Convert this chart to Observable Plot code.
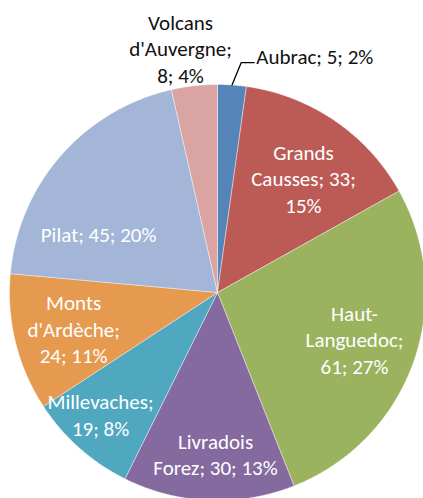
<!DOCTYPE html>
<html><head><meta charset="utf-8">
<script src="https://cdn.jsdelivr.net/npm/d3@7"></script>
<script src="https://cdn.jsdelivr.net/npm/@observablehq/plot@0.6"></script>
<style>body{margin:0;background:#fff;overflow:hidden}</style>
</head><body><div id="chart"></div>
<script>
// ---- data ----
const categories = ["Aubrac", "Grands Causses", "Haut-Languedoc", "Livradois Forez", "Millevaches", "Monts d'Ardèche", "Pilat", "Volcans d'Auvergne"];
const values = [5, 33, 61, 30, 19, 24, 45, 8];
const colors = ["#5584b9", "#bc5a56", "#9bb25e", "#856a9f", "#4fa8bf", "#e59a4f", "#a3b6d8", "#d9a4a2"];
// how each label wraps (text lines)
const labelLines = [
  ["Aubrac; 5; 2%"],
  ["Grands", "Causses; 33;", "15%"],
  ["Haut-", "Languedoc;", "61; 27%"],
  ["Livradois", "Forez; 30; 13%"],
  ["Millevaches;", "19; 8%"],
  ["Monts", "d'Ardèche;", "24; 11%"],
  ["Pilat; 45; 20%"],
  ["Volcans", "d'Auvergne;", "8; 4%"]
];

// ---- layout ----
const W = 423, H = 498, CX = 217, CY = 292, R = 208;
// label placement: angle offset from slice middle (deg), radius as fraction of R, inside/outside
const labelLayout = [
  {da: 5.3, r: 1.154, inside: false, anchor: "start"},
  {da: 2.4, r: 0.69, inside: true},
  {da: -1.0, r: 0.695, inside: true},
  {da: -1.7, r: 0.774, inside: true},
  {da: 2.3, r: 0.811, inside: true},
  {da: 0, r: 0.713, inside: true},
  {da: -14.8, r: 0.638, inside: true},
  {da: -2.2, r: 1.19, inside: false, anchor: "middle"}
];

const arcs = d3.pie().sort(null).value(d => d)(values);

// polygon outline points for each slice, derived from pie angles
const slicePts = [];
arcs.forEach((a, i) => {
  const name = categories[i];
  slicePts.push({name, x: 0, y: 0});
  const n = Math.max(2, Math.ceil((a.endAngle - a.startAngle) / (Math.PI / 360)));
  for (let k = 0; k <= n; k++) {
    const t = a.startAngle + (a.endAngle - a.startAngle) * k / n;
    slicePts.push({name, x: R * Math.sin(t), y: R * Math.cos(t)});
  }
  slicePts.push({name, x: 0, y: 0});
});

const labels = arcs.map((a, i) => {
  const L = labelLayout[i];
  const t = (a.startAngle + a.endAngle) / 2 + L.da * Math.PI / 180;
  return {
    name: categories[i],
    text: labelLines[i].join("\n"),
    x: L.r * R * Math.sin(t),
    y: L.r * R * Math.cos(t),
    inside: L.inside,
    anchor: L.anchor || "middle",
    mid: (a.startAngle + a.endAngle) / 2
  };
});

// leader line for Aubrac label
const lead = labels[0];
const leader = [
  {x: R * Math.sin(lead.mid), y: R * Math.cos(lead.mid)},
  {x: lead.x - 15, y: lead.y - 7},
  {x: lead.x - 2, y: lead.y - 7}
];

const font = {fontSize: 21, lineHeight: 1.26};
const chart = Plot.plot({
  width: W, height: H,
  margin: 0,
  x: {domain: [-CX, W - CX], axis: null},
  y: {domain: [-(H - CY), CY], axis: null},
  color: {domain: categories, range: colors},
  style: {fontFamily: "Carlito, Calibri, 'Liberation Sans', sans-serif", background: "white"},
  marks: [
    Plot.line(slicePts, {x: "x", y: "y", z: "name", fill: "name", stroke: "white", strokeOpacity: 0.5, strokeWidth: 0.8, curve: "linear"}),
    Plot.line(leader, {x: "x", y: "y", stroke: "black", strokeWidth: 1.3}),
    Plot.text(labels.filter(d => d.inside), {x: "x", y: "y", text: "text", fill: "white", textAnchor: "middle", ...font}),
    Plot.text(labels.filter(d => !d.inside && d.anchor === "middle"), {x: "x", y: "y", text: "text", fill: "#111", textAnchor: "middle", ...font}),
    Plot.text(labels.filter(d => !d.inside && d.anchor === "start"), {x: "x", y: "y", text: "text", fill: "#111", textAnchor: "start", ...font})
  ]
});
document.getElementById("chart").appendChild(chart);
</script>
</body></html>
